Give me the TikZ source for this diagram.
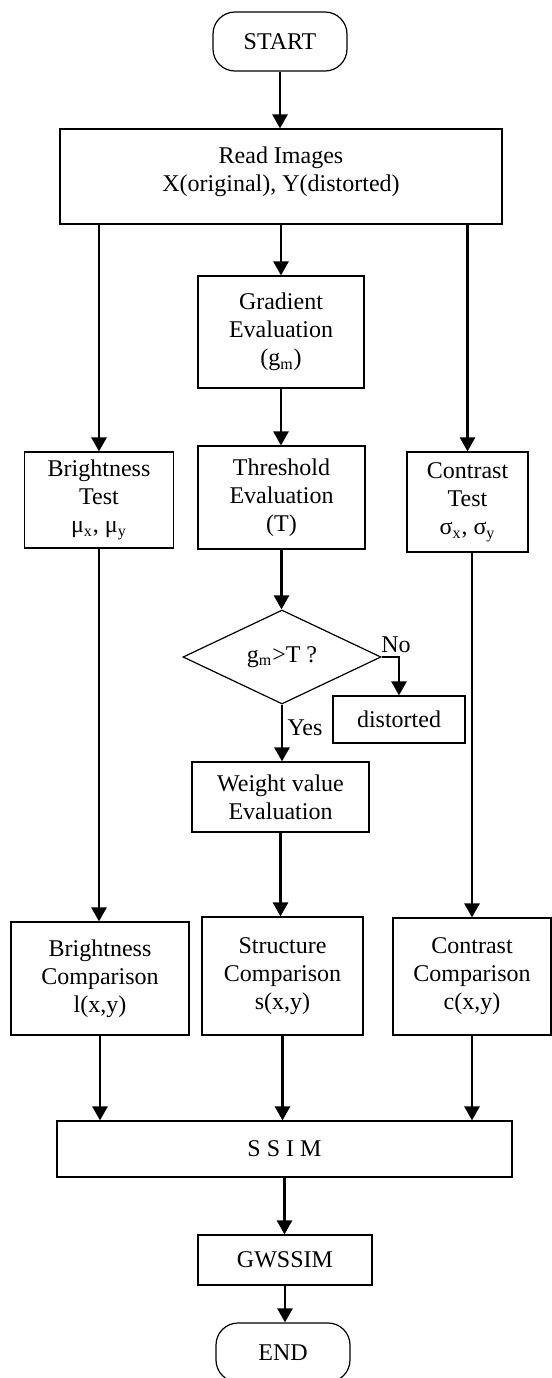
\documentclass[tikz,border=0pt]{standalone}
\usepackage{fontspec}
\setmainfont{Liberation Serif}
\usetikzlibrary{shapes.geometric,arrows.meta}
\begin{document}
\begin{tikzpicture}[x=0.5pt,y=-0.5pt,
  every node/.style={font=\fontsize{12}{14}\selectfont, align=center, inner sep=2pt},
  box/.style={draw, line width=0.6pt, rectangle},
  term/.style={draw, line width=0.6pt, rectangle, rounded corners=11pt, minimum width=67pt, minimum height=29.5pt},
  decision/.style={draw, line width=0.6pt, diamond, aspect=2.1, inner sep=0pt, minimum width=99pt, minimum height=47pt},
  arr/.style={line width=1.3pt, -{Triangle[length=7pt,width=7.5pt]}},
  lbl/.style={inner sep=0pt}
]
\useasboundingbox (0,0) rectangle (552,1378);

\node[term] (start) at (280,41.5) {START};
\node[box, minimum width=221pt, minimum height=47.5pt] (read) at (281,176.5) {Read Images\\X(original), Y(distorted)\\[-7pt]\mbox{}};
\node[box, minimum width=83pt, minimum height=56pt] (grad) at (281,332) {Gradient\\Evaluation\\(g\textsubscript{m})};
\node[box, minimum width=83.5pt, minimum height=51.5pt] (thresh) at (281.5,497.5) {Threshold\\Evaluation\\(T)};
\node[box, minimum width=74.5pt, minimum height=48pt] (btest) at (99,500) {Brightness\\Test\\μ\textsubscript{x}, μ\textsubscript{y}};
\node[box, minimum width=60.5pt, minimum height=50pt] (ctest) at (467.5,502) {Contrast\\Test\\σ\textsubscript{x}, σ\textsubscript{y}};
\node[decision] (dec) at (282,657) {g\textsubscript{m}>T ?};
\node[box, minimum width=66pt, minimum height=23.5pt] (dist) at (399,719.5) {distorted};
\node[box, minimum width=88.5pt, minimum height=35pt] (weight) at (280.5,797) {Weight value\\Evaluation};
\node[box, minimum width=89pt, minimum height=56.5pt] (bcomp) at (100,978.5) {Brightness\\Comparison\\l(x,y)};
\node[box, minimum width=80.5pt, minimum height=59pt] (scomp) at (282.5,976) {Structure\\Comparison\\s(x,y)};
\node[box, minimum width=79pt, minimum height=58.5pt] (ccomp) at (472,976.5) {Contrast\\Comparison\\c(x,y)};
\node[box, minimum width=227.5pt, minimum height=28pt] (ssim) at (284.5,1149) {S S I M};
\node[box, minimum width=87pt, minimum height=25pt] (gws) at (285,1260) {GWSSIM};
\node[term] (end) at (283,1352.5) {END};

\node[lbl] (no) at (396,645) {No};
\node[lbl] (yes) at (305,728) {Yes};

\draw[arr] (start.south) -- (start.south |- read.north);
\draw[arr] (read.south -| btest.north) -- (btest.north);
\draw[arr] (read.south -| grad.north) -- (grad.north);
\draw[arr] (read.south -| ctest.north) -- (ctest.north);
\draw[arr] (grad.south) -- (grad.south |- thresh.north);
\draw[arr] (thresh.south) -- (thresh.south |- dec.north);
\draw[arr] (dec.east) -| (dist.north);
\draw[arr] (dec.south) -- (dec.south |- weight.north);
\draw[arr] (weight.south) -- (weight.south |- scomp.north);
\draw[arr] (btest.south) -- (btest.south |- bcomp.north);
\draw[arr] (ctest.south -| ccomp.north) -- (ccomp.north);
\draw[arr] (bcomp.south) -- (bcomp.south |- ssim.north);
\draw[arr] (scomp.south) -- (scomp.south |- ssim.north);
\draw[arr] (ccomp.south) -- (ccomp.south |- ssim.north);
\draw[arr] (ssim.south) -- (ssim.south |- gws.north);
\draw[arr] (gws.south) -- (gws.south |- end.north);
\end{tikzpicture}
\end{document}
